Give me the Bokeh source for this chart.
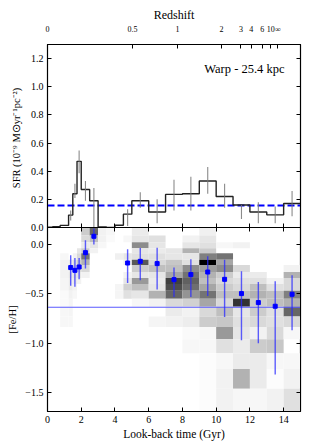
from bokeh.plotting import figure
from bokeh.models import (FixedTicker, LinearAxis, Range1d, Label,
                          PrintfTickFormatter)
from bokeh.layouts import column
from bokeh.embed import file_html
from bokeh.resources import INLINE

FONT = "Liberation Serif"

# ---------------- data ----------------
time_edges = [0, 0.3, 0.75, 1.25, 1.5, 1.75, 2.0, 2.5, 3.0, 3.5, 4.0, 4.5, 5.0,
              6, 7, 8, 9, 10, 11, 12, 13, 14, 15]
sfr = [0.003, 0.006, 0.015, 0.088, 0.24, 0.47, 0.27, 0.19, 0.004, 0.0, 0.016,
       0.095, 0.19, 0.11, 0.235, 0.24, 0.33, 0.22, 0.16, 0.11, 0.09, 0.17]
sfr_err_t = [1.375, 1.625, 1.875, 2.25, 2.75, 4.75, 5.5, 6.5, 7.5, 8.5, 9.5,
             10.5, 11.5, 12.5, 13.5, 14.5]
sfr_err_lo = [0.05, 0.21, 0.386, 0.19, 0.0, 0.01, 0.14, 0.03, 0.12, 0.12, 0.24,
              0.14, 0.06, 0.03, 0.03, 0.08]
sfr_err_hi = [0.12, 0.31, 0.547, 0.33, 0.28, 0.13, 0.25, 0.20, 0.34, 0.36, 0.43,
              0.31, 0.16, 0.18, 0.15, 0.26]
sfr_mean = 0.157

feh_edges = [0.17, 0.09, 0.02, -0.04, -0.09, -0.155, -0.21, -0.28, -0.34, -0.40,
             -0.47, -0.55, -0.63, -0.73, -0.835, -0.96, -1.10, -1.26, -1.46, -1.70]
# one list per time bin, rows from top (metal-rich) to bottom (metal-poor)
hist = [
    [0] * 19,
    [0] * 19,
    [0, 0, 0, 0, .03, .05, .05, .05, .04, .04, .02, .02, .03, .03, 0, 0, 0, 0, 0],
    [0, 0, 0, 0, 0, .08, .08, .10, .08, .08, .05, .04, .04, .03, 0, 0, 0, 0, 0],
    [0, 0, 0, 0, .05, .12, .15, .10, .08, .05, .03, 0, 0, 0, 0, 0, 0, 0, 0],
    [0, 0, 0, .10, .15, .20, .15, .10, .05, 0, 0, 0, 0, 0, 0, 0, 0, 0, 0],
    [.20, .15, .08, .20, .55, .30, .15, .05, 0, 0, 0, 0, 0, 0, 0, 0, 0, 0, 0],
    [.60, .25, .10, .05, 0, 0, 0, 0, 0, 0, 0, 0, 0, 0, 0, 0, 0, 0, 0],
    [.05, .05, .03, 0, 0, 0, 0, 0, 0, 0, 0, 0, 0, 0, 0, 0, 0, 0, 0],
    [.03, .02, 0, 0, 0, 0, 0, 0, 0, 0, 0, 0, 0, 0, 0, 0, 0, 0, 0],
    [0, 0, 0, 0, .06, 0, 0, 0, 0, .04, .04, 0, 0, 0, 0, 0, 0, 0, 0],
    [0, .03, 0, 0, .10, .06, 0, .05, .10, .18, .12, 0, 0, 0, 0, 0, 0, 0, 0],
    [.08, .10, .45, .10, .12, .65, .20, .10, .40, .25, .10, .03, 0, 0, 0, 0, 0, 0, 0],
    [0, .12, .10, .08, .12, .15, .25, .10, .08, .10, .30, .05, 0, .04, 0, 0, 0, 0, 0],
    [0, 0, 0, .10, .10, .22, .25, .35, .75, .70, .60, .15, .08, .05, 0, 0, 0, 0, 0],
    [0, .05, .10, .30, .10, .12, .45, .55, .62, .57, .42, .18, .05, .07, .02, .03, 0, 0, 0],
    [.06, .10, .12, .20, .50, 1.0, .38, .30, .25, .35, .55, .35, .15, .20, .03, .03, .01, .01, .01],
    [0, 0, .03, 0, .55, .35, .45, .20, .15, .20, .25, .15, .25, .22, .40, .12, .03, .05, .05],
    [0, 0, .05, 0, 0, 0, .15, .08, .12, .15, .25, .80, .10, .12, .10, .08, .08, .30, .03],
    [0, 0, 0, 0, 0, 0, 0, .08, .12, .25, .30, .20, .20, .15, .05, .20, .08, .08, .03],
    [0, 0, 0, 0, 0, 0, 0, 0, .05, .12, .25, .25, .12, .12, .15, .22, .03, .01, .05],
    [0, 0, 0, 0, 0, 0, .05, .30, .15, .15, .50, .30, .60, .15, .03, 0, .03, .05, .12],
]

feh_t = [1.375, 1.625, 1.875, 2.25, 2.75, 4.75, 5.5, 6.5, 7.5, 8.5, 9.5, 10.5,
         11.5, 12.5, 13.5, 14.5]
feh_mean = [-0.235, -0.263, -0.229, -0.084, 0.081, -0.189, -0.172, -0.195, -0.357,
            -0.306, -0.28, -0.354, -0.498, -0.589, -0.626, -0.505]
feh_lo = [-0.42, -0.43, -0.354, -0.245, -0.003, -0.39, -0.364, -0.458, -0.532,
          -0.532, -0.522, -0.734, -0.97, -1.0, -1.316, -0.869]
feh_hi = [-0.11, -0.138, -0.138, 0.04, 0.159, -0.05, -0.037, -0.034, -0.235,
          -0.152, -0.121, -0.155, -0.273, -0.38, -0.374, -0.313]
feh_avg = -0.636

x_ticks = [0, 2, 4, 6, 8, 10, 12, 14]
sfr_ticks = [0.0, 0.2, 0.4, 0.6, 0.8, 1.0, 1.2]
feh_ticks = [0.0, -0.5, -1.0, -1.5]
feh_tick_labels = ["0.0", "\u22120.5", "\u22121.0", "\u22121.5"]
z_ticks_gyr = [0.0, 5.04, 7.71, 10.32, 11.47, 12.08, 12.73, 13.23, 13.66]
z_labels = ["0", "0.5", "1", "2", "3", "4", "6", "10", "\u221e"]

OVERLAP = 7  # px of the top canvas below its frame, covered by the lower figure


# ---------------- helpers ----------------
def style_fig(p):
    p.background_fill_color = "white"
    p.outline_line_color = "black"
    p.outline_line_width = 1.2
    p.xgrid.visible = False
    p.ygrid.visible = False


def tick_axis(ax, ticks, show=True, size="10px"):
    ax.ticker = FixedTicker(ticks=ticks)
    ax.major_tick_in = 4
    ax.major_tick_out = 0
    ax.minor_tick_line_color = None
    ax.major_tick_line_color = "black"
    ax.axis_line_color = "black"
    ax.major_label_text_font = FONT
    ax.major_label_text_color = "black"
    ax.axis_label_text_font = FONT
    ax.axis_label_text_color = "black"
    ax.axis_label_text_font_style = "normal"
    if show:
        ax.major_label_text_font_size = size
        ax.major_label_standoff = 4
    else:
        ax.major_label_text_font_size = "0px"
        ax.major_label_standoff = 0


# ---------------- top panel: SFR ----------------
xr = Range1d(0, 15)
p1 = figure(width=316, height=227 + OVERLAP, x_range=xr, y_range=Range1d(0, 1.3),
            output_backend="svg", toolbar_location=None,
            min_border_left=47, min_border_right=16, min_border_top=44,
            min_border_bottom=OVERLAP)
style_fig(p1)
p1.border_fill_color = "white"

p1.line([0, 15], [sfr_mean, sfr_mean], line_color="#0000ff", line_width=2,
        line_dash="7 3")
p1.step(x=time_edges, y=sfr + [sfr[-1]], mode="after", line_color="#222222",
        line_width=1.4)
p1.segment(x0=sfr_err_t, y0=sfr_err_lo, x1=sfr_err_t, y1=sfr_err_hi,
           line_color="#777777", line_width=1.1, line_alpha=0.85)

tick_axis(p1.xaxis[0], x_ticks, show=False)
tick_axis(p1.yaxis[0], sfr_ticks, size="10px")
p1.yaxis[0].formatter = PrintfTickFormatter(format="%.1f")
p1.yaxis[0].axis_label = "SFR (10\u207b\u2079 M\u2299yr\u207b\u00b9pc\u207b\u00b2)"
p1.yaxis[0].axis_label_text_font_size = "10.5px"
p1.yaxis[0].axis_label_standoff = 6

r1 = LinearAxis()
tick_axis(r1, sfr_ticks, show=False)
p1.add_layout(r1, "right")

top = LinearAxis()
tick_axis(top, z_ticks_gyr, size="8px")
top.major_label_overrides = {float(t): l for t, l in zip(z_ticks_gyr, z_labels)}
top.major_label_standoff = 11
top.axis_label = "Redshift"
top.axis_label_text_font_size = "12px"
top.axis_label_standoff = 0
p1.add_layout(top, "above")

p1.add_layout(Label(x=14.05, y=1.124, text="Warp - 25.4 kpc", text_align="right",
                    text_baseline="middle", text_font=FONT,
                    text_font_size="12.5px", text_color="black"))

# ---------------- bottom panel: [Fe/H] ----------------
p2 = figure(width=316, height=216, x_range=xr, y_range=Range1d(-1.69, 0.17),
            output_backend="svg", toolbar_location=None,
            min_border_left=47, min_border_right=16, min_border_top=0,
            min_border_bottom=32, margin=(-OVERLAP, 0, 0, 0))
style_fig(p2)
p2.border_fill_color = None

L, R, T, B, C = [], [], [], [], []
for i in range(len(time_edges) - 1):
    for j in range(len(feh_edges) - 1):
        v = hist[i][j]
        if v > 0:
            g = int(round(255 * (1 - v)))
            L.append(time_edges[i]); R.append(time_edges[i + 1])
            T.append(feh_edges[j]); B.append(feh_edges[j + 1])
            C.append("#%02x%02x%02x" % (g, g, g))
p2.quad(left=L, right=R, top=T, bottom=B, fill_color=C, line_color=None)

p2.line([0, 15], [feh_avg, feh_avg], line_color="#5a5aff", line_width=1.2)
p2.segment(x0=feh_t, y0=feh_lo, x1=feh_t, y1=feh_hi, line_color="#2a2aff",
           line_width=1.4, line_alpha=0.75)
p2.scatter(feh_t, feh_mean, marker="square", size=4, fill_color="#0000ff",
           line_color="#0000ff")

tick_axis(p2.xaxis[0], x_ticks, size="10px")
p2.xaxis[0].major_label_standoff = 4
p2.xaxis[0].axis_label = "Look-back time (Gyr)"
p2.xaxis[0].axis_label_text_font_size = "11.5px"
p2.xaxis[0].axis_label_standoff = 2
tick_axis(p2.yaxis[0], feh_ticks, size="10px")
p2.yaxis[0].major_label_overrides = {float(t): l for t, l in
                                     zip(feh_ticks, feh_tick_labels)}
p2.yaxis[0].axis_label = "[Fe/H]"
p2.yaxis[0].axis_label_text_font_size = "10.5px"
p2.yaxis[0].axis_label_standoff = 4

r2 = LinearAxis()
tick_axis(r2, feh_ticks, show=False)
p2.add_layout(r2, "right")
t2 = LinearAxis()
tick_axis(t2, x_ticks, show=False)
p2.add_layout(t2, "above")

layout = column(p1, p2, spacing=0)
open("out.html", "w").write(file_html(layout, INLINE))
